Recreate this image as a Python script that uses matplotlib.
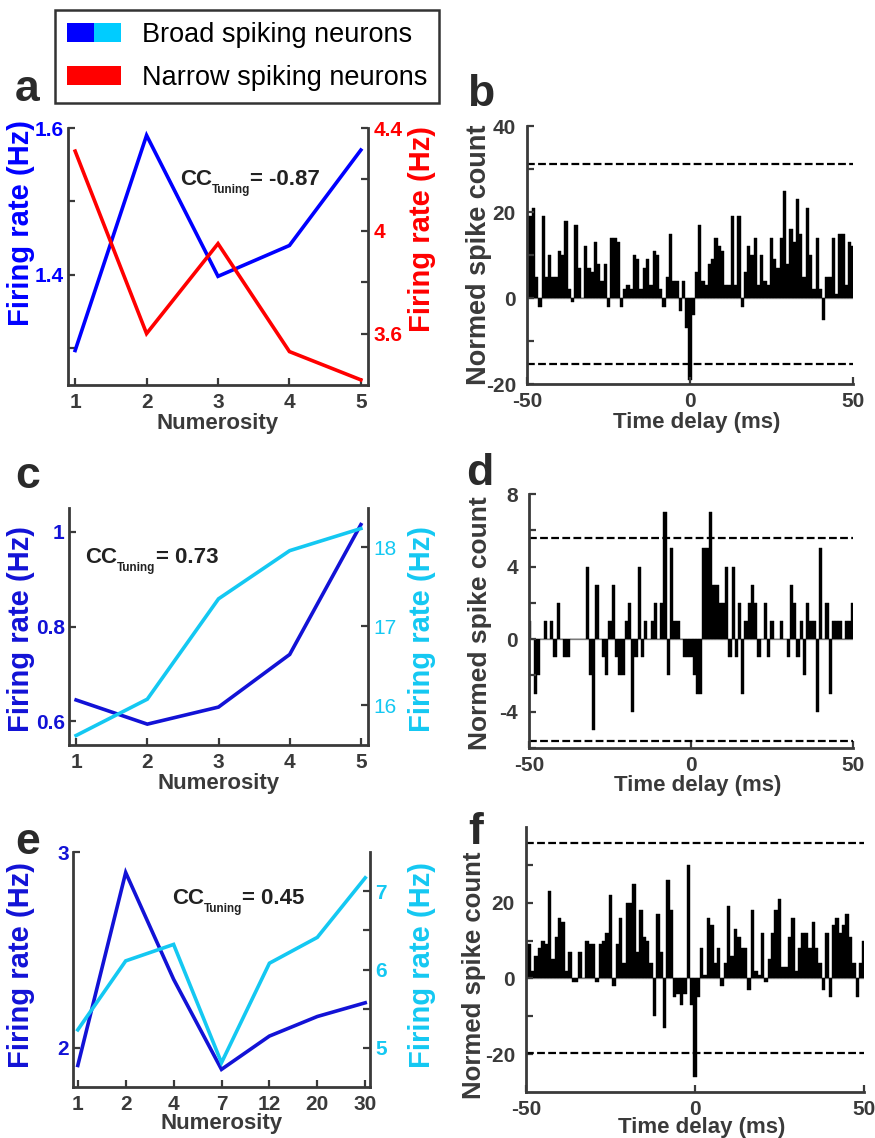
import matplotlib
matplotlib.use('Agg')
import matplotlib.pyplot as plt
import numpy as np
from matplotlib.patches import Patch
from matplotlib.legend_handler import HandlerTuple
from matplotlib.ticker import FixedLocator, FuncFormatter

plt.rcParams['font.family'] = ['Liberation Sans', 'DejaVu Sans']

GREY = '#3a3a3a'
BLUE = '#0000ff'
DARK_BLUE = '#1212d6'
LIGHT_BLUE = '#14c8f2'
RED = '#ff0000'

# tuning curves (mean firing rate per numerosity)
num_ac = [1, 2, 3, 4, 5]
broad_a = [1.297, 1.59, 1.398, 1.44, 1.57]
narrow_a = [4.31, 3.60, 3.95, 3.53, 3.42]
broad_c1 = [0.645, 0.594, 0.630, 0.741, 1.015]
broad_c2 = [15.62, 16.08, 17.35, 17.96, 18.24]
num_e = ['1', '2', '4', '7', '12', '20', '30']
broad_e1 = [1.91, 2.895, 2.35, 1.89, 2.06, 2.16, 2.23]
broad_e2 = [5.23, 6.11, 6.32, 4.81, 6.08, 6.41, 7.17]
cc_values = ['-0.87', '0.73', '0.45']

# cross-correlograms, 1 ms bins from -50 to 50 ms
lags = np.arange(-50, 51)
ccg_b = [19, 19, 21, 5, -2, 19, 5, 10, 5, 5, 11, 10, 18, 2, -1, 17, 7, 0, 12, 7,
         6, 13, 8, 4, 8, -2, 14, 14, 13, -2, 2, 3, 2, 10, 9, 2, 7, 9, 3, 11,
         10, 2, -2, 5, 15, 4, 4, -3, 4, -7, -19,
         -4, 6, 17, 4, 3, 8, 9, 14, 12, 11, 3, 3, 19, 3, 19, -2, 6, 12, 10, 14,
         3, 10, 4, 3, 14, 9, 7, 14, 25, 8, 16, 13, 23, 15, 5, 21, 10, 2, 14, 2,
         -5, 5, 5, 14, 1, 15, 15, 3, 13, 12]
ccg_d = [1, 0, -3, -2, 0, 1, 0, 1, -1, 2, 0, -1, -1, 0, 0, 0, 0, 0, 4, -2,
         -5, 3, 0, -1, -2, 1, 3, -1, -2, -2, 1, 2, -4, -1, 4, -1, 1, 0, 1, 2,
         0, 2, 7, -2, 5, 1, 1, 0, -1, -1,
         -1, -2, -3, -3, 5, 5, 7, 3, 3, 2, 2, 4, -1, 4, -1, 2, -3, 1, 2, 3,
         2, -1, 0, 2, -1, 1, 0, 0, 1, 0, -1, 3, 2, -1, 1, -2, 2, 1, 1, -4,
         5, 0, 2, -3, 1, 1, 1, 0, 1, 1, 2]
ccg_f = [9, 9, 2, 6, 8, 10, 9, 23, 5, 11, 16, 15, 2, 7, -1, -1, 7, 0, 10, 9,
         9, -1, 9, 10, 12, 22, -2, 9, 16, 4, 20, 20, 25, 7, 18, 11, 10, 4, -10, 17,
         7, -13, 26, 18, -5, -4, -7, -4, 30, -7, -26,
         -5, 8, 1, 16, 14, 4, 8, -2, 4, 19, 6, 13, 11, 8, 8, -3, 18, 2, 1, 12,
         -1, 5, 12, 18, 21, 3, 3, 11, 16, 2, 8, 12, 12, 8, 15, 8, 4, -3, 12, -5,
         14, 16, 12, 14, 17, 11, 4, -5, 4, 10]
thr_b = [31.2, -15.3]
thr_d = [5.6, -5.6]
thr_f = [35.8, -19.7]

W, H = 875, 1138
fig = plt.figure(figsize=(W / 100, H / 100), dpi=100)


def px_rect(left, top, right, bottom):
    return [left / W, 1 - bottom / H, (right - left) / W, (bottom - top) / H]


fmt = FuncFormatter(lambda v, p: '%g' % v)


def style_ticks(ax):
    ax.tick_params(direction='in', length=5, width=1.6, color=GREY, which='both')


def cc_label(ax, xy, value):
    # CC with a small "Tuning" subscript, chained from text to text
    t1 = ax.text(xy[0], xy[1], 'CC', transform=ax.transAxes, fontsize=16,
                 fontweight='bold', color='#222222', va='center', ha='left')
    t2 = ax.annotate('Tuning', xy=(1, -0.28), xycoords=t1, fontsize=8.5,
                     fontweight='bold', color='#222222', va='bottom', ha='left')
    ax.annotate('= ' + value, xy=(1, 0), xycoords=(t2, t1), fontsize=16,
                fontweight='bold', color='#222222', va='bottom', ha='left')


def tuning_panel(rect, x, y1, y2, c1, c2, lim1, lim2, maj1, min1, maj2, min2,
                 cc, cc_xy, lab1, lab2, xlab_y, bold2=True, categorical=False):
    ax = fig.add_axes(rect)
    if categorical:
        xs = np.arange(len(x))
    else:
        xs = np.array(x)
    ax.plot(xs, y1, color=c1, lw=2.6, solid_joinstyle='miter')
    ax.set_ylim(*lim1)
    if categorical:
        ax.set_xlim(-0.1, len(x) - 0.9)
        ax.set_xticks(xs)
        ax.set_xticklabels(x)
    else:
        ax.set_xlim(0.9, 5.1)
        ax.set_xticks(xs)
        ax.xaxis.set_major_formatter(fmt)
    ax.yaxis.set_major_locator(FixedLocator(maj1))
    ax.yaxis.set_minor_locator(FixedLocator(min1))
    ax.yaxis.set_major_formatter(fmt)
    for s in ['top', 'right']:
        ax.spines[s].set_visible(False)
    for s in ['left', 'bottom']:
        ax.spines[s].set_color(GREY)
        ax.spines[s].set_linewidth(2)
    style_ticks(ax)
    ax.tick_params(axis='y', pad=3, labelsize=15, labelcolor=c1)
    ax.tick_params(axis='x', pad=6, labelsize=15, labelcolor=GREY)
    for t in ax.get_yticklabels() + ax.get_xticklabels():
        t.set_fontweight('bold')
    ax.set_ylabel('Firing rate (Hz)', color=c1, fontsize=21, fontweight='bold')
    ax.yaxis.set_label_coords(*lab1)
    ax.set_xlabel('Numerosity', color=GREY, fontsize=16, fontweight='bold')
    ax.xaxis.set_label_coords(0.5, xlab_y)

    ax2 = ax.twinx()
    ax2.plot(xs, y2, color=c2, lw=2.6, solid_joinstyle='miter')
    ax2.set_ylim(*lim2)
    ax2.yaxis.set_major_locator(FixedLocator(maj2))
    ax2.yaxis.set_minor_locator(FixedLocator(min2))
    ax2.yaxis.set_major_formatter(fmt)
    for s in ['top', 'left', 'bottom']:
        ax2.spines[s].set_visible(False)
    ax2.spines['right'].set_color(GREY)
    ax2.spines['right'].set_linewidth(2)
    style_ticks(ax2)
    ax2.tick_params(axis='y', pad=4, labelsize=15, labelcolor=c2)
    if bold2:
        for t in ax2.get_yticklabels():
            t.set_fontweight('bold')
    ax2.set_ylabel('Firing rate (Hz)', color=c2, fontsize=21, fontweight='bold')
    ax2.yaxis.set_label_coords(*lab2)

    cc_label(ax, cc_xy, cc)
    return ax


def ccg_panel(rect, counts, thr, lim, maj, mnr, ylab_xy, xlab_y, ylab_size=19.5):
    ax = fig.add_axes(rect)
    ax.axhline(0, color='#9a9a9a', lw=1, zorder=0)
    ax.bar(lags, counts, width=1.0, color='black', edgecolor='black', linewidth=0.3)
    for t in thr:
        ax.axhline(t, color='black', lw=1.6, ls=(0, (3.5, 1.5)))
    ax.set_xlim(-50, 50)
    ax.set_ylim(*lim)
    ax.set_xticks([-50, 0, 50])
    ax.xaxis.set_major_formatter(fmt)
    ax.yaxis.set_major_locator(FixedLocator(maj))
    ax.yaxis.set_minor_locator(FixedLocator(mnr))
    ax.yaxis.set_major_formatter(fmt)
    for s in ['top', 'right']:
        ax.spines[s].set_visible(False)
    for s in ['left', 'bottom']:
        ax.spines[s].set_color(GREY)
        ax.spines[s].set_linewidth(2)
    style_ticks(ax)
    ax.tick_params(axis='both', labelsize=15, labelcolor=GREY)
    ax.tick_params(axis='y', pad=8)
    ax.tick_params(axis='x', pad=6)
    for t in ax.get_yticklabels() + ax.get_xticklabels():
        t.set_fontweight('bold')
    ax.set_ylabel('Normed spike count', color=GREY, fontsize=ylab_size, fontweight='bold')
    ax.yaxis.set_label_coords(*ylab_xy)
    ax.set_xlabel('Time delay (ms)', color=GREY, fontsize=16, fontweight='bold')
    ax.xaxis.set_label_coords(0.52, xlab_y)
    return ax


tuning_panel(px_rect(68, 128, 368, 385), num_ac, broad_a, narrow_a, BLUE, RED,
             (1.25, 1.6), (3.4, 4.4), [1.4, 1.6], [1.3, 1.5], [3.6, 4.0, 4.4], [3.8, 4.2],
             cc_values[0], (0.373, 0.80), (-0.11, 0.63), (1.133, 0.607), -0.109)
tuning_panel(px_rect(69, 508, 368, 745), num_ac, broad_c1, broad_c2, DARK_BLUE, LIGHT_BLUE,
             (0.55, 1.05), (15.5, 18.5), [0.6, 0.8, 1.0], [], [16, 17, 18], [],
             cc_values[1], (0.054, 0.79), (-0.114, 0.49), (1.134, 0.49), -0.118, bold2=False)
tuning_panel(px_rect(73, 852, 370, 1087), num_e, broad_e1, broad_e2, DARK_BLUE, LIGHT_BLUE,
             (1.8, 3.0), (4.5, 7.5), [2, 3], [], [5, 6, 7], [5.5, 6.5],
             cc_values[2], (0.333, 0.80), (-0.128, 0.52), (1.128, 0.52), -0.111,
             categorical=True)

ccg_panel(px_rect(527, 126, 853, 384), ccg_b, thr_b, (-20, 40), [-20, 0, 20, 40], [-10, 10, 30],
          (-0.107, 0.5), -0.109)
ccg_panel(px_rect(529, 494, 853, 748), ccg_d, thr_d, (-6, 8), [-4, 0, 4, 8], [-6, -2, 2, 6],
          (-0.114, 0.49), -0.106, ylab_size=19)
ccg_panel(px_rect(526, 827, 864, 1092), ccg_f, thr_f, (-30, 40), [-20, 0, 20], [-10, 10, 30],
          (-0.118, 0.44), -0.095, ylab_size=18.5)

# panel letters
letters = [('a', 15, 101), ('b', 467, 106), ('c', 15, 488), ('d', 466, 485),
           ('e', 15, 854), ('f', 468, 844)]
for s, x, y in letters:
    fig.text(x / W, 1 - y / H, s, fontsize=32, fontweight='bold', color='#2a2a2a',
             ha='left', va='baseline')

# legend for the cell classes
h_broad = (Patch(facecolor=BLUE, edgecolor='none'), Patch(facecolor='#00ccff', edgecolor='none'))
h_narrow = Patch(facecolor=RED, edgecolor='none')
leg = fig.legend([h_broad, h_narrow], ['Broad spiking neurons', 'Narrow spiking neurons'],
                 handler_map={tuple: HandlerTuple(ndivide=None, pad=0)},
                 loc='upper left', bbox_to_anchor=(55 / W, 1 - 10 / H), borderaxespad=0,
                 fontsize=19.5, handlelength=2.0, handleheight=0.7, handletextpad=0.75,
                 labelspacing=0.62, borderpad=0.45, fancybox=False, frameon=True)
leg.get_frame().set_edgecolor('black')
leg.get_frame().set_linewidth(1.8)

fig.savefig('out.png', dpi=100)
